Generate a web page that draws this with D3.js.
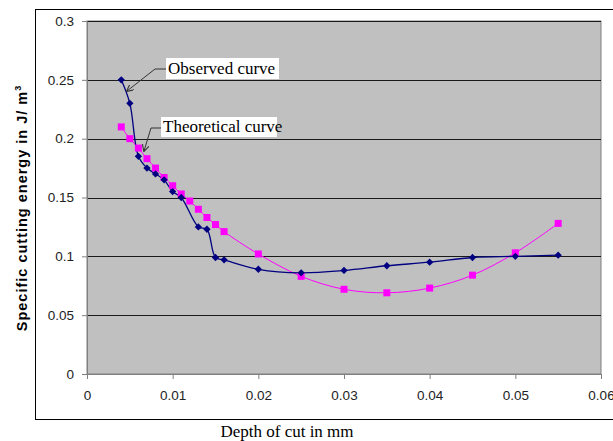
<!DOCTYPE html>
<html>
<head>
<meta charset="utf-8">
<script src="https://cdn.jsdelivr.net/npm/d3@7"></script>
<style>
  body { margin: 0; background: #fff; }
  svg { display: block; }
</style>
</head>
<body>
<svg id="chart" width="613" height="441"></svg>
<script>
// depth of cut (mm) and specific cutting energy values
const observedX = [0.004, 0.005, 0.006, 0.007, 0.008, 0.009, 0.010, 0.011, 0.013, 0.014, 0.015, 0.016, 0.020, 0.025, 0.030, 0.035, 0.040, 0.045, 0.050, 0.055];
const observedY = [0.250, 0.230, 0.185, 0.175, 0.170, 0.165, 0.155, 0.150, 0.125, 0.123, 0.099, 0.097, 0.089, 0.086, 0.088, 0.092, 0.095, 0.099, 0.100, 0.101];
const theoreticalX = [0.004, 0.005, 0.006, 0.007, 0.008, 0.009, 0.010, 0.011, 0.012, 0.013, 0.014, 0.015, 0.016, 0.020, 0.025, 0.030, 0.035, 0.040, 0.045, 0.050, 0.055];
const theoreticalY = [0.210, 0.200, 0.192, 0.183, 0.175, 0.167, 0.160, 0.153, 0.147, 0.140, 0.133, 0.127, 0.121, 0.102, 0.083, 0.072, 0.069, 0.073, 0.084, 0.103, 0.128];
const xTicks = [0, 0.01, 0.02, 0.03, 0.04, 0.05, 0.06];
const yTicks = [0, 0.05, 0.1, 0.15, 0.2, 0.25, 0.3];

const svg = d3.select('#chart');
const plotL = 87, plotR = 601, plotT = 21, plotB = 374;

const x = d3.scaleLinear().domain([0, 0.06]).range([plotL, plotR]);
const y = d3.scaleLinear().domain([0, 0.3]).range([plotB, plotT]);

// outer chart frame (right side runs off the picture)
svg.append('rect')
  .attr('x', 35.5).attr('y', 9.5)
  .attr('width', 620).attr('height', 410)
  .attr('fill', '#fff').attr('stroke', '#000').attr('stroke-width', 1);

// plot area
svg.append('rect')
  .attr('x', plotL).attr('y', plotT)
  .attr('width', plotR - plotL).attr('height', plotB - plotT)
  .attr('fill', '#c0c0c0').attr('stroke', '#808080').attr('stroke-width', 1);

// gridlines
svg.append('g').selectAll('line')
  .data(yTicks.slice(1))
  .enter().append('line')
  .attr('x1', plotL).attr('x2', plotR)
  .attr('y1', d => Math.round(y(d)) + 0.5).attr('y2', d => Math.round(y(d)) + 0.5)
  .attr('stroke', '#1a1a1a').attr('stroke-width', 1);

// axes
const fmt = d => String(+d.toFixed(2));
const yAxis = d3.axisLeft(y).tickValues(yTicks).tickSize(5).tickPadding(8).tickFormat(fmt);
const xAxis = d3.axisBottom(x).tickValues(xTicks).tickSize(5).tickPadding(11).tickFormat(fmt);

const gy = svg.append('g').attr('transform', 'translate(' + plotL + ',0)').call(yAxis);
const gx = svg.append('g').attr('transform', 'translate(0,' + plotB + ')').call(xAxis);

[gx, gy].forEach(g => {
  g.select('.domain').attr('stroke', '#808080');
  g.selectAll('.tick line').attr('stroke', '#808080');
  g.selectAll('.tick text')
    .attr('fill', '#222')
    .style('font-family', 'Liberation Sans, Arial, sans-serif')
    .style('font-size', '13.5px');
});

// lines
const line = d3.line()
  .x(d => x(d[0]))
  .y(d => y(d[1]))
  .curve(d3.curveCatmullRom.alpha(0.5));

const observed = observedX.map((d, i) => [d, observedY[i]]);
const theoretical = theoreticalX.map((d, i) => [d, theoreticalY[i]]);

svg.append('path')
  .datum(theoretical)
  .attr('d', line)
  .attr('fill', 'none')
  .attr('stroke', '#ff00ff')
  .attr('stroke-width', 1);

svg.append('path')
  .datum(observed)
  .attr('d', line)
  .attr('fill', 'none')
  .attr('stroke', '#000080')
  .attr('stroke-width', 1.3);

// markers
svg.append('g').selectAll('rect')
  .data(theoretical)
  .enter().append('rect')
  .attr('x', d => x(d[0]) - 3.5)
  .attr('y', d => y(d[1]) - 3.5)
  .attr('width', 7).attr('height', 7)
  .attr('fill', '#ff00ff');

svg.append('g').selectAll('path')
  .data(observed)
  .enter().append('path')
  .attr('d', d3.symbol().type(d3.symbolDiamond2).size(34))
  .attr('transform', d => 'translate(' + x(d[0]) + ',' + y(d[1]) + ')')
  .attr('fill', '#000080');

// annotations
svg.append('defs').append('marker')
  .attr('id', 'arrow')
  .attr('viewBox', '0 0 10 10')
  .attr('refX', 9).attr('refY', 5)
  .attr('markerWidth', 7).attr('markerHeight', 7)
  .attr('orient', 'auto')
  .append('path')
  .attr('d', 'M0,0 L10,5 L0,10')
  .attr('fill', 'none')
  .attr('stroke', '#333')
  .attr('stroke-width', 1.5);

function callout (label, bx, by, bw, bh, pts) {
  svg.append('rect')
    .attr('x', bx).attr('y', by)
    .attr('width', bw).attr('height', bh)
    .attr('fill', '#fff');
  svg.append('text')
    .attr('x', bx + 2).attr('y', by + bh - 5)
    .style('font-family', 'Liberation Serif, Times New Roman, serif')
    .style('font-size', '17px')
    .attr('fill', '#000')
    .text(label);
  svg.append('path')
    .attr('d', d3.line()(pts))
    .attr('fill', 'none')
    .attr('stroke', '#333')
    .attr('stroke-width', 1)
    .attr('marker-end', 'url(#arrow)');
}

callout('Observed curve', 166, 58, 113, 21, [[166, 69], [155, 69], [127, 91]]);
callout('Theoretical curve', 161, 117, 116, 20, [[161, 128], [151, 128], [144, 151]]);

// axis titles
svg.append('text')
  .attr('transform', 'translate(27,208) rotate(-90)')
  .attr('text-anchor', 'middle')
  .style('font-family', 'Liberation Sans, Arial, sans-serif')
  .style('font-size', '14.5px')
  .style('font-weight', 'bold')
  .style('letter-spacing', '1px')
  .attr('fill', '#000')
  .text('Specific cutting energy in J/ m')
  .append('tspan')
  .attr('dy', -6)
  .style('font-size', '9px')
  .text('3');

svg.append('text')
  .attr('x', 287).attr('y', 437)
  .attr('text-anchor', 'middle')
  .style('font-family', 'Liberation Serif, Times New Roman, serif')
  .style('font-size', '17px')
  .attr('fill', '#000')
  .text('Depth  of  cut in mm');
</script>
</body>
</html>
